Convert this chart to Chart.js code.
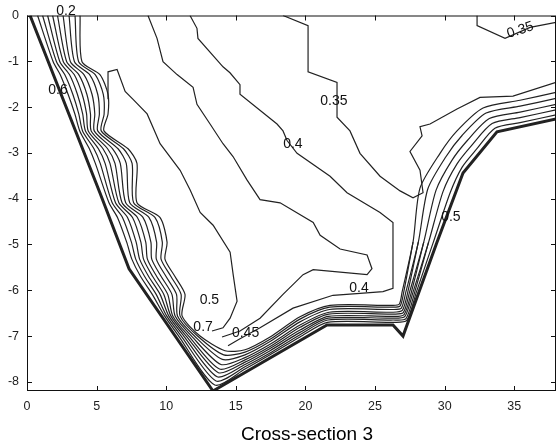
<!DOCTYPE html>
<html>
<head>
<meta charset="utf-8">
<script src="https://cdn.jsdelivr.net/npm/chart.js@4/dist/chart.umd.min.js"></script>
<style>
  html, body { margin: 0; padding: 0; background: #fff; }
  #wrap { width: 557px; height: 446px; }
</style>
</head>
<body>
<div id="wrap"><canvas id="c" width="557" height="446"></canvas></div>
<script>
// Axis ticks (distance across the section, depth)
const xTickValues = [0, 5, 10, 15, 20, 25, 30, 35];
const yTickValues = [0, -1, -2, -3, -4, -5, -6, -7, -8];
const captionText = 'Cross-section 3';

// Channel bed profile [distance, depth]
const bedProfile = [[0.22,0],[5.25,-3.88],[7.33,-5.53],[13.36,-8.2],[21.55,-6.76],[26.29,-6.76],
  [27.01,-7.0],[29.45,-4.95],[31.32,-3.44],[33.76,-2.54],[38,-2.26]];

// Contours hugging the bed from bank to bank, innermost first
const bankContour1 = [[0.76,0],[1.88,-1.01],[2.38,-1.29],[2.95,-1.72],[3.44,-2.15],[3.79,-2.52],[4.48,-2.91],
  [4.91,-3.23],[5.89,-4.09],[6.50,-4.41],[7.16,-4.95],[7.53,-5.32],[8.16,-5.70],[9.00,-6.09],[9.88,-6.56],
  [10.90,-7.0],[13.49,-8.07],[15.66,-7.72],[17.46,-7.41],[19.61,-7.02],[21.58,-6.70],[26.29,-6.70],
  [27.28,-6.66],[27.98,-6.03],[29.19,-4.95],[30.41,-3.86],[31.26,-3.31],[32.29,-2.92],[33.61,-2.46],
  [35.42,-2.34],[38,-2.17]];
const bankContour2 = [[1.48,0],[2.36,-1.01],[3.05,-1.29],[3.62,-1.72],[4.0,-2.15],[4.20,-2.52],[5.13,-2.91],
  [5.61,-3.23],[6.36,-4.09],[7.22,-4.41],[7.84,-4.95],[8.09,-5.32],[8.74,-5.70],[9.56,-6.09],[10.18,-6.56],
  [11.26,-7.0],[13.66,-7.89],[15.66,-7.62],[17.46,-7.32],[19.61,-6.92],[21.63,-6.61],[26.29,-6.61],
  [27.15,-6.57],[27.74,-6.03],[28.85,-4.95],[29.89,-3.84],[30.89,-3.24],[31.96,-2.83],[33.41,-2.36],
  [35.42,-2.23],[38,-2.06]];
const bankContour3 = [[2.19,0],[2.85,-1.01],[3.72,-1.29],[4.30,-1.72],[4.56,-2.15],[4.61,-2.52],[5.79,-2.91],
  [6.32,-3.23],[6.83,-4.09],[7.93,-4.41],[8.53,-4.95],[8.65,-5.32],[9.32,-5.70],[10.11,-6.09],[10.47,-6.56],
  [11.62,-7.0],[13.83,-7.72],[15.66,-7.52],[17.46,-7.23],[19.61,-6.81],[21.67,-6.52],[26.29,-6.52],
  [27.03,-6.49],[27.49,-6.03],[28.50,-4.95],[29.38,-3.82],[30.51,-3.17],[31.63,-2.73],[33.21,-2.25],
  [35.42,-2.11],[38,-1.94]];
const bankContour4 = [[3.02,0],[3.41,-1.01],[4.50,-1.29],[5.08,-1.72],[5.20,-2.15],[5.08,-2.52],[6.54,-2.91],
  [7.13,-3.23],[7.38,-4.09],[8.76,-4.41],[9.31,-4.95],[9.29,-5.32],[9.99,-5.70],[10.74,-6.09],[10.81,-6.56],
  [12.03,-7.0],[14.03,-7.51],[15.66,-7.41],[17.46,-7.12],[19.61,-6.69],[21.72,-6.42],[26.29,-6.42],
  [26.89,-6.39],[27.22,-6.03],[28.11,-4.95],[28.79,-3.79],[30.08,-3.09],[31.25,-2.62],[32.98,-2.13],
  [35.42,-1.98],[38,-1.81]];
const bankContour5 = [[3.81,0],[3.95,-1.01],[5.24,-1.29],[5.82,-1.72],[5.82,-2.15],[5.53,-2.52],[7.26,-2.91],
  [7.90,-3.23],[7.90,-4.09],[9.55,-4.41],[10.06,-4.95],[9.91,-5.32],[10.63,-5.70],[11.35,-6.09],[11.14,-6.56],
  [12.43,-7.0],[14.22,-7.32],[15.66,-7.30],[17.46,-7.02],[19.61,-6.58],[21.77,-6.33],[26.29,-6.33],
  [26.75,-6.30],[26.95,-6.03],[27.73,-4.95],[28.23,-3.77],[29.67,-3.01],[30.89,-2.52],[32.76,-2.02],
  [35.42,-1.85],[38,-1.68]];

// Extra contours of the left bank and bottom that pinch out on the right bank
const leftContour1 = [[1.12,0],[2.12,-1.01],[2.71,-1.29],[3.29,-1.72],[3.72,-2.15],[3.99,-2.52],[4.81,-2.91],
  [5.26,-3.23],[6.12,-4.09],[6.86,-4.41],[7.50,-4.95],[7.81,-5.32],[8.45,-5.70],[9.28,-6.09],[10.03,-6.56],
  [11.08,-7.0],[13.58,-7.98],[15.66,-7.67],[17.46,-7.37],[19.61,-6.97],[21.61,-6.65],[26.29,-6.65],
  [27.22,-6.62],[27.86,-6.03],[28.85,-4.95]];
const leftContour2 = [[1.84,0],[2.61,-1.01],[3.39,-1.29],[3.96,-1.72],[4.28,-2.15],[4.40,-2.52],[5.46,-2.91],
  [5.96,-3.23],[6.60,-4.09],[7.58,-4.41],[8.18,-4.95],[8.37,-5.32],[9.03,-5.70],[9.83,-6.09],[10.33,-6.56],
  [11.44,-7.0],[13.75,-7.80],[15.66,-7.57],[17.46,-7.27],[19.61,-6.87],[21.65,-6.57],[26.29,-6.57],
  [27.09,-6.53],[27.62,-6.03],[28.50,-4.95]];
const leftContour3 = [[2.59,0],[3.12,-1.01],[4.09,-1.29],[4.67,-1.72],[4.87,-2.15],[4.83,-2.52],[6.15,-2.91],
  [6.70,-3.23],[7.09,-4.09],[8.33,-4.41],[8.90,-4.95],[8.96,-5.32],[9.64,-5.70],[10.41,-6.09],[10.64,-6.56],
  [11.82,-7.0],[13.93,-7.62],[15.66,-7.47],[17.46,-7.18],[19.61,-6.76],[21.70,-6.48],[26.29,-6.48],
  [26.96,-6.44],[27.36,-6.03],[28.11,-4.95]];
const leftContour4 = [[3.45,0],[3.71,-1.01],[4.90,-1.29],[5.48,-1.72],[5.54,-2.15],[5.33,-2.52],[6.93,-2.91],
  [7.55,-3.23],[7.66,-4.09],[9.19,-4.41],[9.72,-4.95],[9.63,-5.32],[10.34,-5.70],[11.07,-6.09],[10.99,-6.56],
  [12.25,-7.0],[14.13,-7.41],[15.66,-7.35],[17.46,-7.07],[19.61,-6.63],[21.75,-6.37],[26.29,-6.37],
  [26.81,-6.34],[27.07,-6.03],[27.73,-4.95]];

// Open-water contours
const contour035 = [[18.39,0],[20.19,-0.22],[20.19,-1.23],[22.27,-1.46],[22.27,-2.22],[23.20,-2.52],
  [23.92,-3.01],[25.36,-3.51],[26.80,-3.83],[27.73,-3.98],[28.45,-3.87],[28.23,-3.38],[27.51,-2.97],
  [28.38,-2.63],[28.23,-2.43],[28.95,-2.37],[30.89,-2.04],[32.54,-1.79],[34.91,-1.76],[38,-1.46]];
const contour040 = [[11.71,0],[12.21,-0.28],[12.28,-0.50],[14.08,-1.12],[14.58,-1.25],[15.30,-1.51],
  [15.30,-1.72],[17.96,-2.37],[18.39,-2.52],[18.68,-2.73],[19.40,-3.01],[21.77,-3.51],[22.99,-3.87],
  [25.36,-4.30],[26.29,-4.52],[26.29,-5.96],[25.57,-6.03],[23.92,-6.07],[21.98,-6.11],[19.11,-6.39],
  [16.74,-6.82],[15.30,-7.06],[14.44,-7.21]];
const contour045 = [[8.69,0],[9.34,-0.50],[9.77,-1.01],[10.78,-1.29],[11.93,-1.57],[12.21,-1.94],
  [13.15,-2.37],[14.08,-2.80],[14.80,-3.08],[15.80,-3.59],[16.74,-4.02],[18.18,-4.09],[20.56,-4.52],
  [21.06,-4.80],[22.49,-5.10],[24.43,-5.23],[24.78,-5.53],[24.43,-5.66],[20.56,-5.55],[19.83,-5.66],
  [18.39,-6.09],[16.74,-6.61],[15.30,-6.89],[14.01,-7.02]];
const contour050 = [[5.82,-1.83],[5.82,-1.23],[6.47,-1.18],[7.05,-1.66],[7.62,-1.83],[8.63,-2.15],
  [9.56,-2.80],[11.0,-3.38],[11.72,-3.81],[12.44,-4.30],[13.37,-4.58],[14.59,-5.17],[14.81,-5.66],
  [15.09,-6.24],[14.59,-6.61],[14.08,-6.82],[13.29,-6.89]];
const contourTopRight = [[32.33,0],[32.33,-0.22],[34.34,-0.50],[36.14,-0.26],[38,-0.15]];

// Contour labels: [text, distance, depth, angle in degrees]
const contourLabels = [
  ['0.2', 2.8, 0.1, 0],
  ['0.6', 2.23, -1.64, 0],
  ['0.35', 22.05, -1.87, 0],
  ['0.4', 19.1, -2.80, 0],
  ['0.35', 35.44, -0.32, -18],
  ['0.5', 30.45, -4.41, 0],
  ['0.5', 13.1, -6.22, 0],
  ['0.7', 12.65, -6.8, 0],
  ['0.45', 15.7, -6.93, 0],
  ['0.4', 23.85, -5.95, 0]
];

// w: stroke width, t: curve tension (rounded bank contours, angular open-water ones)
const lineSets = [
  { pts: bedProfile, w: 3, t: 0 },
  { pts: bankContour1, w: 1.2, t: 0.25 },
  { pts: leftContour1, w: 1.2, t: 0.25 },
  { pts: bankContour2, w: 1.2, t: 0.25 },
  { pts: leftContour2, w: 1.2, t: 0.25 },
  { pts: bankContour3, w: 1.2, t: 0.25 },
  { pts: leftContour3, w: 1.2, t: 0.25 },
  { pts: bankContour4, w: 1.2, t: 0.25 },
  { pts: leftContour4, w: 1.2, t: 0.25 },
  { pts: bankContour5, w: 1.2, t: 0.25 },
  { pts: contour035, w: 1.2, t: 0 },
  { pts: contour040, w: 1.2, t: 0 },
  { pts: contour045, w: 1.2, t: 0 },
  { pts: contour050, w: 1.2, t: 0 },
  { pts: contourTopRight, w: 1.2, t: 0 }
];

const FONT = '"Liberation Sans", Arial, sans-serif';

// Box frame with inward tick marks on all four sides, plus the caption
const framePlugin = {
  id: 'frame',
  afterDatasetsDraw(chart) {
    const { ctx, chartArea: a, scales: { x, y } } = chart;
    ctx.save();
    ctx.strokeStyle = '#111';
    ctx.lineWidth = 1;
    ctx.strokeRect(a.left + 0.5, a.top + 0.5, a.right - a.left - 1, a.bottom - a.top - 1);
    ctx.beginPath();
    xTickValues.forEach(v => {
      const px = Math.round(x.getPixelForValue(v)) + 0.5;
      ctx.moveTo(px, a.bottom); ctx.lineTo(px, a.bottom - 5);
      ctx.moveTo(px, a.top); ctx.lineTo(px, a.top + 5);
    });
    yTickValues.forEach(v => {
      const py = Math.round(y.getPixelForValue(v)) + 0.5;
      ctx.moveTo(a.left, py); ctx.lineTo(a.left + 5, py);
      ctx.moveTo(a.right, py); ctx.lineTo(a.right - 5, py);
    });
    ctx.stroke();
    ctx.fillStyle = '#000';
    ctx.font = '19px ' + FONT;
    ctx.textAlign = 'center';
    ctx.textBaseline = 'middle';
    ctx.fillText(captionText, 307, 435);
    ctx.restore();
  }
};

// Contour value labels placed on the data scales
const labelPlugin = {
  id: 'contourLabels',
  afterDatasetsDraw(chart) {
    const { ctx, scales: { x, y } } = chart;
    ctx.save();
    ctx.font = '14px ' + FONT;
    ctx.fillStyle = '#111';
    ctx.textAlign = 'center';
    ctx.textBaseline = 'middle';
    contourLabels.forEach(([t, vx, vy, ang]) => {
      ctx.save();
      ctx.translate(x.getPixelForValue(vx), y.getPixelForValue(vy));
      ctx.rotate(ang * Math.PI / 180);
      ctx.fillText(t, 0, 0);
      ctx.restore();
    });
    ctx.restore();
  }
};

new Chart(document.getElementById('c'), {
  type: 'scatter',
  data: {
    datasets: lineSets.map(s => ({
      data: s.pts,
      showLine: true,
      borderColor: '#222',
      borderWidth: s.w,
      pointRadius: 0,
      pointHoverRadius: 0,
      fill: false,
      tension: s.t
    }))
  },
  options: {
    responsive: false,
    animation: false,
    devicePixelRatio: 1,
    layout: { padding: { top: 10, right: 1, left: 0, bottom: 0 } },
    plugins: {
      legend: { display: false },
      tooltip: { enabled: false },
      title: { display: false }
    },
    scales: {
      x: {
        type: 'linear',
        min: 0, max: 38,
        grid: { display: false, drawTicks: false },
        border: { display: false },
        afterBuildTicks: s => { s.ticks = xTickValues.map(v => ({ value: v })); },
        afterFit: s => { s.height = 55; },
        ticks: {
          padding: 8,
          color: '#1e1e1e',
          font: { family: FONT, size: 12.5 },
          maxRotation: 0,
          autoSkip: false
        }
      },
      y: {
        type: 'linear',
        min: -8.2, max: 0,
        grid: { display: false, drawTicks: false },
        border: { display: false },
        afterBuildTicks: s => { s.ticks = yTickValues.map(v => ({ value: v })); },
        afterFit: s => { s.width = 27; },
        ticks: {
          padding: 8,
          color: '#1e1e1e',
          font: { family: FONT, size: 12.5 },
          autoSkip: false
        }
      }
    }
  },
  plugins: [framePlugin, labelPlugin]
});
</script>
</body>
</html>
